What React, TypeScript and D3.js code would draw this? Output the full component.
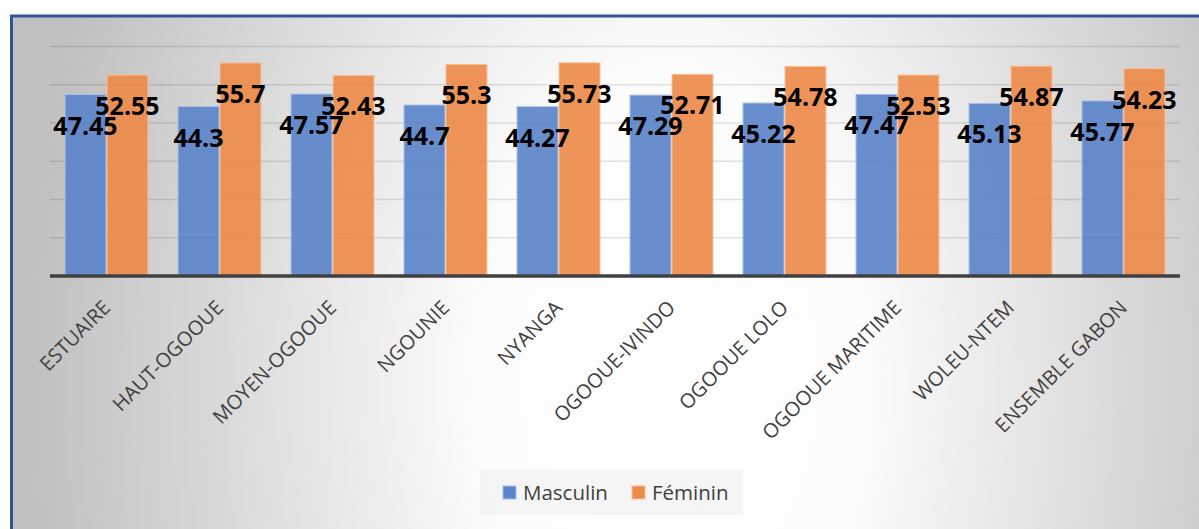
import React from "react";
import * as d3 from "d3";

const categories = [
  "ESTUAIRE",
  "HAUT-OGOOUE",
  "MOYEN-OGOOUE",
  "NGOUNIE",
  "NYANGA",
  "OGOOUE-IVINDO",
  "OGOOUE LOLO",
  "OGOOUE MARITIME",
  "WOLEU-NTEM",
  "ENSEMBLE GABON",
];
const masculin = [47.45, 44.3, 47.57, 44.7, 44.27, 47.29, 45.22, 47.47, 45.13, 45.77];
const feminin = [52.55, 55.7, 52.43, 55.3, 55.73, 52.71, 54.78, 52.53, 54.87, 54.23];
const seriesNames = ["Masculin", "Féminin"];
const seriesColors = ["#5B84CA", "#ED8B4B"];
const seriesStroke = ["#A9BEE6", "#F6C09A"];
const yTicks = [10, 20, 30, 40, 50, 60];

const W = 1199;
const H = 529;

export default function App() {
  const x0 = d3
    .scaleBand<string>()
    .domain(categories)
    .range([50, 1180])
    .paddingInner(0.257)
    .paddingOuter(0.1285);
  const x1 = d3.scaleBand<number>().domain([0, 1]).range([0, x0.bandwidth()]);
  const y = d3.scaleLinear().domain([0, 60]).range([276, 46.5]);
  const series = [masculin, feminin];
  const font = "'Open Sans', 'Noto Sans', sans-serif";

  return (
    <svg
      width={W}
      height={H}
      style={{ position: "absolute", left: 0, top: 0 }}
      viewBox={`0 0 ${W} ${H}`}
    >
      <defs>
        <radialGradient
          id="bg"
          gradientUnits="userSpaceOnUse"
          cx={0}
          cy={0}
          r={1}
          gradientTransform="translate(670,380) scale(640,1000)"
        >
          <stop offset="0" stopColor="#ffffff" />
          <stop offset="0.3" stopColor="#fcfcfc" />
          <stop offset="1" stopColor="#c0c0c0" />
        </radialGradient>
      </defs>
      <rect x={0} y={0} width={W} height={H} fill="#ffffff" />
      <rect x={11.5} y={16} width={1200} height={530} fill="url(#bg)" stroke="#2F5597" strokeWidth={3} />

      {/* gridlines */}
      {yTicks.map((t) => (
        <line
          key={t}
          x1={50}
          x2={1180}
          y1={y(t)}
          y2={y(t)}
          stroke="rgba(0,0,0,0.11)"
          strokeWidth={1.5}
        />
      ))}

      {/* bars */}
      {categories.map((c, i) => (
        <g key={c} transform={`translate(${x0(c)},0)`}>
          {series.map((s, k) => (
            <rect
              key={k}
              x={(x1(k) as number) + 0.5}
              y={y(s[i])}
              width={x1.bandwidth() - 1}
              height={y(0) - y(s[i])}
              fill={seriesColors[k]}
              fillOpacity={0.92}
              stroke={seriesStroke[k]}
              strokeWidth={1}
            />
          ))}
        </g>
      ))}

      {/* axis */}
      <line x1={50} x2={1180} y1={y(0)} y2={y(0)} stroke="#404040" strokeWidth={3.5} />

      {/* data labels */}
      {categories.map((c, i) => (
        <g key={c + "-lab"}>
          {series.map((s, k) => (
            <text
              key={k}
              x={(x0(c) as number) + (x1(k) as number) + x1.bandwidth() / 2}
              y={y(s[i]) + 40}
              textAnchor="middle"
              fontFamily={font}
              fontWeight={700}
              fontSize={25}
              fill="#000000"
            >
              {s[i]}
            </text>
          ))}
        </g>
      ))}

      {/* category labels */}
      {categories.map((c) => {
        const cx = (x0(c) as number) + x0.bandwidth() / 2;
        return (
          <text
            key={c + "-cat"}
            transform={`translate(${cx + 5},${309}) rotate(-45)`}
            textAnchor="end"
            fontFamily={font}
            fontSize={20}
            fill="#404040"
          >
            {c}
          </text>
        );
      })}

      {/* legend */}
      <rect x={480} y={470} width={263} height={45} fill="#f2f2f2" opacity={0.8} />
      {seriesNames.map((n, k) => {
        const lx = k === 0 ? 503 : 632;
        return (
          <g key={n}>
            <rect x={lx} y={486} width={13} height={13} fill={seriesColors[k]} stroke={seriesStroke[k]} strokeWidth={1} />
            <text x={lx + 20} y={500} fontFamily={font} fontSize={20.5} fill="#404040">
              {n}
            </text>
          </g>
        );
      })}
    </svg>
  );
}
